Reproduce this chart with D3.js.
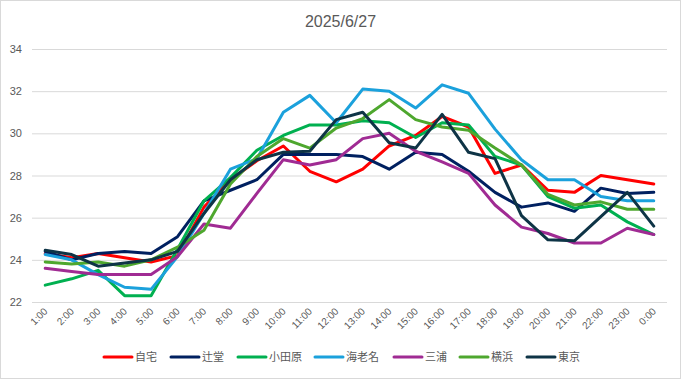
<!DOCTYPE html>
<html><head><meta charset="utf-8">
<script src="https://cdn.jsdelivr.net/npm/d3@7"></script>
<style>
html,body{margin:0;padding:0;background:#fff;}
svg{display:block;font-family:"Liberation Sans",Arial,"Noto Sans CJK JP",sans-serif;}
</style></head><body>
<svg id="c" width="681" height="379"></svg>
<script>
const title = "2025/6/27";
const hours = ["1:00","2:00","3:00","4:00","5:00","6:00","7:00","8:00","9:00","10:00","11:00","12:00","13:00","14:00","15:00","16:00","17:00","18:00","19:00","20:00","21:00","22:00","23:00","0:00"];
const yTicks = [22,24,26,28,30,32,34];
const seriesNames = ["自宅","辻堂","小田原","海老名","三浦","横浜","東京"];
const seriesColors = ["#FF0000","#002060","#00B050","#1BA1DC","#A02B93","#4EA72E","#0E3446"];
const jitaku   = [24.3,24.1,24.3,24.1,23.9,24.2,26.5,27.8,28.7,29.4,28.2,27.7,28.3,29.4,29.9,30.8,30.3,28.1,28.5,27.3,27.2,28.0,27.8,27.6];
const tsujido  = [24.4,24.0,24.3,24.4,24.3,25.1,26.8,27.3,27.8,29.0,29.0,29.0,28.9,28.3,29.1,29.0,28.2,27.2,26.5,26.7,26.3,27.4,27.15,27.2];
const odawara  = [22.8,23.1,23.5,22.3,22.3,24.5,26.8,27.9,29.2,29.9,30.4,30.4,30.6,30.5,29.8,30.5,30.4,28.9,28.5,27.0,26.45,26.6,25.8,25.2];
const ebina    = [24.25,24.0,23.3,22.7,22.6,24.15,26.2,28.3,28.8,31.0,31.8,30.5,32.1,32.0,31.2,32.3,31.9,30.2,28.75,27.8,27.8,27.0,26.8,26.8];
const miura    = [23.6,23.45,23.3,23.3,23.3,24.15,25.7,25.5,27.15,28.75,28.5,28.75,29.75,30.0,29.15,28.65,28.1,26.6,25.55,25.25,24.8,24.8,25.5,25.2];
const yokohama = [23.9,23.8,23.9,23.7,24.0,24.6,25.4,27.6,28.9,29.75,29.3,30.25,30.7,31.6,30.65,30.3,30.15,29.3,28.5,27.1,26.6,26.75,26.4,26.4];
const tokyo    = [24.45,24.25,23.7,23.85,24.0,24.4,26.2,27.8,28.75,29.1,29.15,30.65,31.0,29.55,29.3,30.9,29.1,28.8,26.1,24.95,24.9,26.05,27.2,25.6];
const seriesValues = [jitaku,tsujido,odawara,ebina,miura,yokohama,tokyo];

const svg = d3.select("#c");
const W = 681, H = 379;
const margin = {left:32, right:14, top:49, bottom:77};
const x = d3.scaleBand().domain(hours).range([margin.left, W - margin.right]);
const y = d3.scaleLinear().domain([22,34]).range([H - margin.bottom, margin.top]);

// border
svg.append("rect").attr("x",0.5).attr("y",0.5).attr("width",W-1).attr("height",H-1)
  .attr("fill","#fff").attr("stroke","#D9D9D9");

// title
svg.append("text").attr("x",W/2).attr("y",27).attr("text-anchor","middle")
  .attr("font-size",16).attr("fill","#595959").text(title);

// gridlines
const yAxis = d3.axisLeft(y).tickValues(yTicks).tickSize(-(W - margin.left - margin.right)).tickPadding(10);
const gy = svg.append("g").attr("transform",`translate(${margin.left},0)`).call(yAxis);
gy.select(".domain").remove();
gy.selectAll(".tick line").attr("stroke","#D9D9D9").attr("stroke-width",1);
gy.selectAll(".tick text").attr("fill","#595959").attr("font-size",11).attr("font-family","Liberation Sans, Arial, sans-serif");

// x axis labels
const xAxis = d3.axisBottom(x).tickSize(0).tickPadding(0);
const gx = svg.append("g").attr("transform",`translate(0,${H - margin.bottom})`).call(xAxis);
gx.select(".domain").remove();
gx.selectAll(".tick text")
  .attr("fill","#595959").attr("font-size",10).attr("font-family","Liberation Sans, Arial, sans-serif")
  .attr("text-anchor","end").attr("dy",0)
  .attr("transform","translate(3,10) rotate(-45)");

// lines
const line = d3.line().x((d,i)=>x(hours[i]) + x.bandwidth()/2).y(d=>y(d));
seriesValues.forEach((vals,k)=>{
  svg.append("path").datum(vals).attr("d",line).attr("fill","none")
    .attr("stroke",seriesColors[k]).attr("stroke-width",3)
    .attr("stroke-linejoin","round").attr("stroke-linecap","round");
});

// legend
const legendX = [104,171,238,315,394,460,527];
const lg = svg.append("g");
seriesNames.forEach((n,k)=>{
  const g = lg.append("g").attr("transform",`translate(${legendX[k]},357)`);
  g.append("line").attr("x1",0).attr("x2",28).attr("y1",0).attr("y2",0)
    .attr("stroke",seriesColors[k]).attr("stroke-width",3).attr("stroke-linecap","round");
  g.append("text").attr("x",31).attr("y",4).attr("font-size",11).attr("fill","#595959")
    .attr("font-family","Noto Sans CJK JP, sans-serif").text(n);
});
</script>
</body></html>
